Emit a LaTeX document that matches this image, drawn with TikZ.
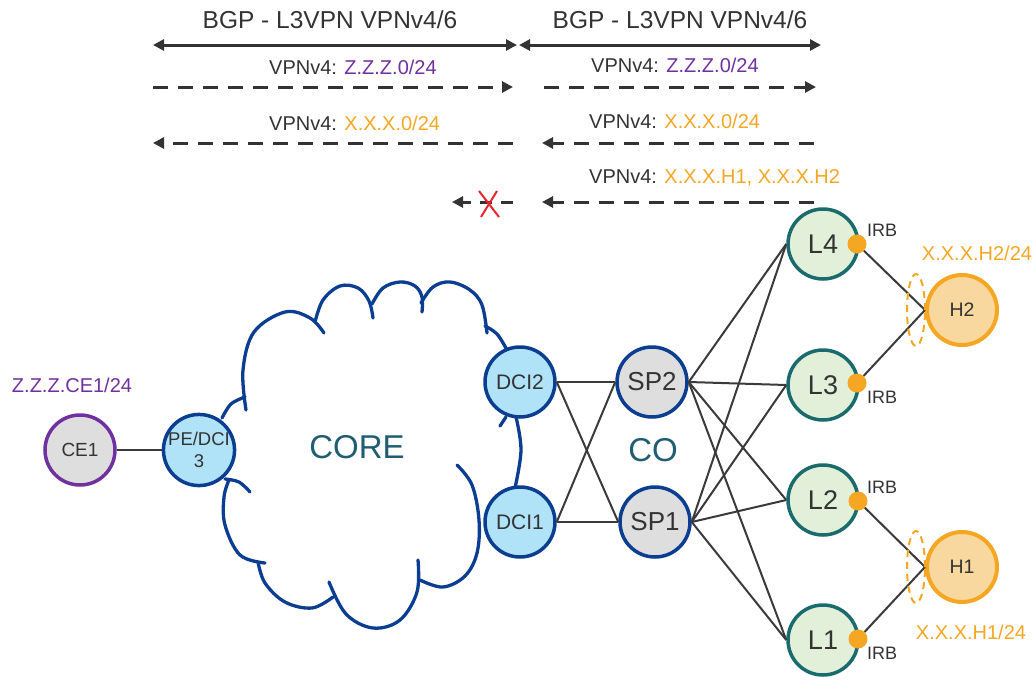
\documentclass[tikz,border=0pt]{standalone}
\usepackage{fontspec}
\setmainfont{Liberation Sans}
\usetikzlibrary{arrows.meta}
\definecolor{txtc}{HTML}{333333}
\definecolor{linec}{HTML}{3A3A3A}
\definecolor{purc}{HTML}{7030A0}
\definecolor{orc}{HTML}{F5A623}
\definecolor{orf}{HTML}{F8D89E}
\definecolor{blueb}{HTML}{0B3D91}
\definecolor{bluef}{HTML}{B0E2F8}
\definecolor{grayf}{HTML}{DEDEDE}
\definecolor{greenf}{HTML}{E2F0DA}
\definecolor{tealb}{HTML}{1A6B6E}
\definecolor{corec}{HTML}{1F5E72}
\definecolor{redx}{HTML}{E8262B}
\tikzset{
  nd/.style={circle, minimum size=70pt, inner sep=0pt, line width=3.5pt, text=txtc},
  ce/.style={nd, draw=purc, fill=grayf, font=\fontsize{19}{22}\selectfont},
  dci/.style={nd, draw=blueb, fill=bluef, font=\fontsize{21}{24}\selectfont},
  pe/.style={nd, draw=blueb, fill=bluef, align=center, font=\fontsize{18.5}{22}\selectfont},
  sp/.style={nd, draw=blueb, fill=grayf, font=\fontsize{26}{30}\selectfont},
  lf/.style={nd, draw=tealb, fill=greenf, font=\fontsize{27}{30}\selectfont},
  hs/.style={nd, draw=orc, fill=orf, line width=4pt, font=\fontsize{19.5}{22}\selectfont},
  irb/.style={circle, fill=orc, minimum size=19pt, inner sep=0pt},
  link/.style={draw=linec, line width=2pt},
  cloudl/.style={draw=blueb, line width=3.3pt, line cap=round},
  lbl/.style={inner sep=0pt, text=txtc, font=\fontsize{20}{24}\selectfont},
  irbl/.style={inner sep=0pt, text=txtc, font=\fontsize{18}{22}\selectfont},
  title/.style={inner sep=0pt, text=txtc, font=\fontsize{24.5}{28}\selectfont},
  big/.style={inner sep=0pt, text=corec, font=\fontsize{33}{36}\selectfont},
  solidarr/.style={draw=txtc, line width=3pt, {Triangle[length=11pt,width=11pt]}-{Triangle[length=11pt,width=11pt]}},
  dasharr/.style={draw=txtc, line width=3pt, dash pattern=on 15pt off 10pt, -{Triangle[length=11pt,width=11pt]}},
  hostgrp/.style={draw=orc, line width=2pt, dash pattern=on 7pt off 5pt},
}
\begin{document}
\begin{tikzpicture}[x=1pt,y=-1pt]
\useasboundingbox (0,0) rectangle (1036,680);

% ---- cloud ----
\draw[cloudl] plot[smooth, tension=0.6] coordinates {(222,418) (231,404) (245,397)};
\draw[cloudl] plot[smooth, tension=0.6] coordinates {(246,410) (243,370) (254,332) (285,312) (310,318) (324,333)};
\draw[cloudl] plot[smooth, tension=0.6] coordinates {(315,322) (323,300) (340,286) (358,288) (369,301) (373,318)};
\draw[cloudl] plot[smooth, tension=0.6] coordinates {(372,304) (383,288) (400,282) (415,286) (422,297) (422,312)};
\draw[cloudl] plot[smooth, tension=0.6] coordinates {(421,303) (433,287) (450,282) (470,290) (482,305) (487,333)};
\draw[cloudl] plot[smooth, tension=0.6] coordinates {(485,326) (497,334) (507,350)};
\draw[cloudl] (500,426) -- (506,417);
\draw[cloudl] plot[smooth, tension=0.6] coordinates {(516,417) (521,450) (515,488)};
\draw[cloudl] plot[smooth, tension=0.6] coordinates {(457,465) (472,485) (479,520) (477,553) (465,576) (443,587) (420,580)};
\draw[cloudl] plot[smooth, tension=0.6] coordinates {(418,560) (417,592) (400,620) (373,628) (346,614) (329,582)};
\draw[cloudl] plot[smooth, tension=0.6] coordinates {(333,597) (312,608) (285,602) (265,583) (258,562)};
\draw[cloudl] plot[smooth, tension=0.6] coordinates {(265,563) (240,555) (225,525) (224,497) (229,480)};
\draw[cloudl] plot[smooth, tension=0.6] coordinates {(225,479) (239,482) (250,492)};
\node[big] (core) at (357,447) {CORE};
\node[big] (co) at (653,450) {CO};

% ---- nodes ----
\node[ce] (ce1) at (80,450) {CE1};
\node[pe] (pe) at (199,450) {PE/DCI\\3};
\node[dci] (dci2) at (520,382) {DCI2};
\node[dci] (dci1) at (520,522) {DCI1};
\node[sp] (sp2) at (652,382) {SP2};
\node[sp] (sp1) at (655,522) {SP1};
\node[lf] (l4) at (823,244) {L4};
\node[lf] (l3) at (823,385) {L3};
\node[lf] (l2) at (823,500) {L2};
\node[lf] (l1) at (823,640) {L1};
\node[hs] (h2) at (962,310) {H2};
\node[hs] (h1) at (962,567) {H1};
\node[irb] (d4) at (857,244) {};
\node[irb] (d3) at (857,383) {};
\node[irb] (d2) at (858,501) {};
\node[irb] (d1) at (858,639) {};

% ---- links ----
\draw[link, line width=2.7pt] (ce1) -- (pe);
\foreach \a in {dci2,dci1}{\foreach \b in {sp2,sp1}{\draw[link] (\a.east) -- (\b.west);}}
\foreach \a in {sp2,sp1}{\foreach \b in {l4,l3,l2,l1}{\draw[link] (\a.east) -- (\b.west);}}
\draw[link] (d4) -- (h2.west);
\draw[link] (d3) -- (h2.west);
\draw[link] (d2) -- (h1.west);
\draw[link] (d1) -- (h1.west);
\draw[hostgrp] (916,310) ellipse [x radius=9pt, y radius=36pt];
\draw[hostgrp] (916,567) ellipse [x radius=9pt, y radius=36pt];

% ---- labels ----
\node[lbl, text=purc] (celab) at (72,385) {Z.Z.Z.CE1/24};
\node[irbl] (irb4) at (882,230) {IRB};
\node[irbl] (irb3) at (882,397) {IRB};
\node[irbl] (irb2) at (882,487) {IRB};
\node[irbl] (irb1) at (882,653) {IRB};
\node[lbl, text=orc] (h2lab) at (977,253) {X.X.X.H2/24};
\node[lbl, text=orc] (h1lab) at (971,632) {X.X.X.H1/24};

% ---- top BGP ----
\node[title] (t1) at (330,20) {BGP - L3VPN VPNv4/6};
\node[title] (t2) at (680,20) {BGP - L3VPN VPNv4/6};
\coordinate (s1a) at (153,45); \coordinate (s1b) at (517,45);
\coordinate (s2a) at (519,45); \coordinate (s2b) at (821,45);
\draw[solidarr] (s1a) -- (s1b);
\draw[solidarr] (s2a) -- (s2b);

\node[lbl, anchor=west] (v1) at (269,67) {VPNv4: \textcolor{purc}{Z.Z.Z.0/24}};
\node[lbl, anchor=west] (v2) at (591,65) {VPNv4: \textcolor{purc}{Z.Z.Z.0/24}};
\coordinate (r1a) at (153,87); \coordinate (r1b) at (513,87);
\coordinate (r2a) at (544,87); \coordinate (r2b) at (816,87);
\draw[dasharr] (r1a) -- (r1b);
\draw[dasharr] (r2a) -- (r2b);

\node[lbl, anchor=west] (v3) at (269,123) {VPNv4: \textcolor{orc}{X.X.X.0/24}};
\node[lbl, anchor=west] (v4) at (589,121) {VPNv4: \textcolor{orc}{X.X.X.0/24}};
\coordinate (q1a) at (513,143); \coordinate (q1b) at (153,143);
\coordinate (q2a) at (814,143); \coordinate (q2b) at (542,143);
\draw[dasharr] (q1a) -- (q1b);
\draw[dasharr] (q2a) -- (q2b);

\node[lbl, anchor=west] (v5) at (589,178) {VPNv4: \textcolor{orc}{X.X.X.H1, X.X.X.H2}};
\coordinate (p1a) at (513,202); \coordinate (p1b) at (452,202);
\coordinate (p2a) at (814,202); \coordinate (p2b) at (542,202);
\draw[dasharr, dash pattern=on 12pt off 9pt] (p1a) -- (p1b);
\draw[dasharr] (p2a) -- (p2b);
\coordinate (xa) at (479,191); \coordinate (xb) at (499,217);
\coordinate (xc) at (497,191); \coordinate (xd) at (481,217);
\draw[redx, line width=2pt] (xa) -- (xb) (xc) -- (xd);
\end{tikzpicture}
\end{document}
